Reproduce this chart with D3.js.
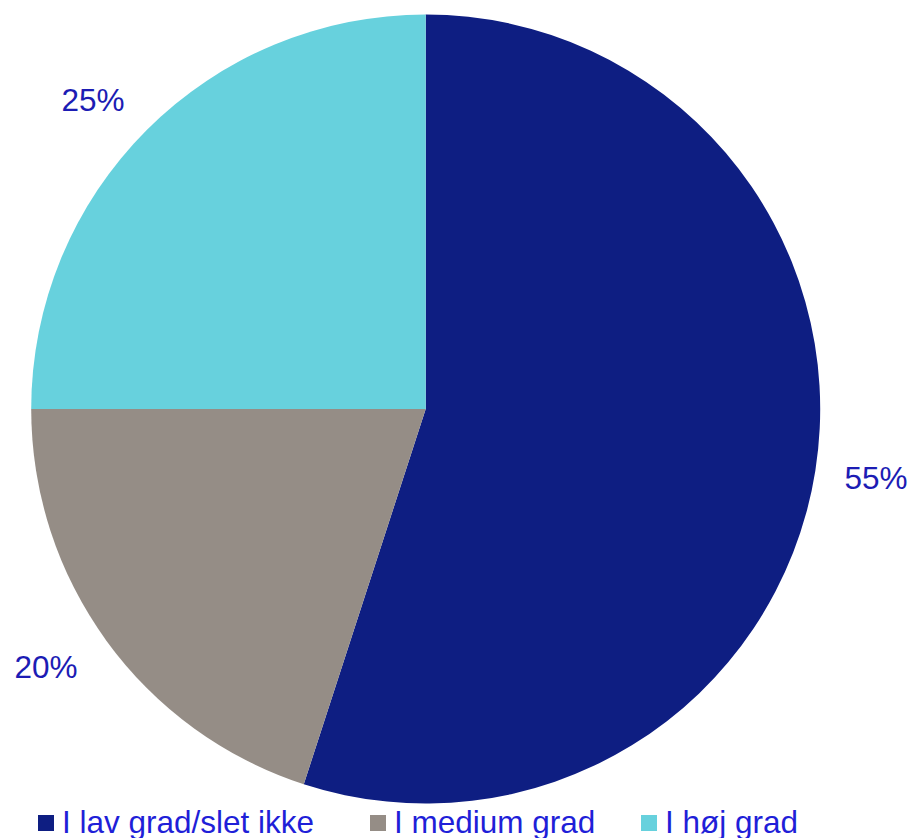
<!DOCTYPE html>
<html>
<head>
<meta charset="utf-8">
<script src="https://cdn.jsdelivr.net/npm/d3@7"></script>
<style>
  body { margin: 0; background: #fff; }
  text { font-family: "Liberation Sans", Arial, sans-serif; }
</style>
</head>
<body>
<div id="chart"></div>
<script>
// data
const categories = ["I lav grad/slet ikke", "I medium grad", "I høj grad"];
const values = [55, 20, 25];
const colors = ["#0e1e82", "#958d86", "#67d1dd"];

const width = 913, height = 838;
const cx = 425.7, cy = 409, radius = 394.5;

const svg = d3.select("#chart")
    .append("svg")
    .attr("width", width)
    .attr("height", height);

const pie = d3.pie().sort(null).value(d => d.value);
const arcGen = d3.arc().innerRadius(0).outerRadius(radius);

const slices = pie(categories.map((c, i) => ({name: c, value: values[i], color: colors[i]})));

const g = svg.append("g").attr("transform", `translate(${cx}, ${cy})`);

g.selectAll("path")
    .data(slices)
    .enter()
    .append("path")
    .attr("d", arcGen)
    .attr("fill", d => d.data.color);

// percent labels, outside the pie (slightly wider horizontally like excel does)
const labelRx = 462, labelRy = 438, labelShift = -6;
g.selectAll("text.pct")
    .data(slices)
    .enter()
    .append("text")
    .attr("class", "pct")
    .attr("x", d => labelShift + labelRx * Math.sin((d.startAngle + d.endAngle) / 2))
    .attr("y", d => -labelRy * Math.cos((d.startAngle + d.endAngle) / 2))
    .attr("dy", "0.36em")
    .attr("text-anchor", "middle")
    .style("font-size", "31.5px")
    .style("fill", "#1c1cb4")
    .text(d => d3.format(".0%")(d.data.value / d3.sum(values)));

// legend (bottom row, clipped by the frame like the original)
const legendX = [38, 370, 641];
const legendG = svg.append("g").attr("transform", "translate(0, 815)");

const items = legendG.selectAll("g")
    .data(slices)
    .enter()
    .append("g")
    .attr("transform", (d, i) => `translate(${legendX[i]}, 0)`);

items.append("rect")
    .attr("width", 16)
    .attr("height", 16)
    .attr("fill", d => d.data.color);

items.append("text")
    .attr("x", 24)
    .attr("y", 18)
    .style("font-size", "31.5px")
    .style("fill", "#1f1fd8")
    .text(d => d.data.name);
</script>
</body>
</html>
